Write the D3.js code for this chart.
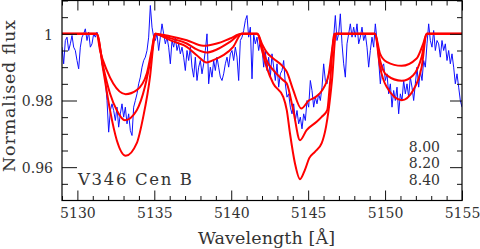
<!DOCTYPE html>
<html>
<head>
<meta charset="utf-8">
<script src="https://cdn.jsdelivr.net/npm/d3@7"></script>
<style>
  body { margin: 0; background: #fff; }
  svg { display: block; }
  text { font-family: "DejaVu Serif", serif; fill: #333; }
</style>
</head>
<body>
<svg id="chart" width="480" height="249"></svg>
<script>
// observed spectrum, regular wavelength grid from waveStart to waveEnd
const waveStart = 5129.0;
const waveEnd = 5155.0;
const obsFlux = [
  0.9960, 0.9910, 0.9980, 0.9990, 0.9950, 0.9970, 0.9995, 0.9960, 0.9950, 0.9920,
  0.9895, 0.9960, 0.9990, 1.0000, 1.0015, 0.9980, 1.0005, 0.9960, 0.9970, 1.0000,
  0.9990, 1.0005, 0.9980, 0.9960, 0.9910, 0.9885, 0.9860, 0.9800, 0.9705, 0.9770,
  0.9790, 0.9770, 0.9740, 0.9780, 0.9720, 0.9760, 0.9790, 0.9750, 0.9780, 0.9730,
  0.9760, 0.9710, 0.9695, 0.9780, 0.9800, 0.9820, 0.9850, 0.9870, 0.9900, 0.9920,
  0.9930, 0.9950, 0.9990, 1.0085, 1.0020, 0.9990, 0.9980, 1.0000, 0.9950, 0.9990,
  1.0030, 1.0000, 0.9970, 0.9990, 0.9960, 0.9910, 0.9980, 0.9960, 0.9990, 0.9950,
  0.9970, 0.9940, 0.9960, 0.9930, 0.9890, 0.9950, 0.9920, 0.9960, 0.9900, 0.9870,
  0.9930, 0.9860, 0.9900, 0.9920, 0.9880, 0.9910, 0.9950, 1.0000, 0.9850, 0.9900,
  0.9870, 0.9920, 0.9890, 0.9930, 0.9900, 0.9870, 0.9860, 0.9880, 0.9910, 0.9930,
  0.9900, 0.9940, 0.9950, 0.9920, 0.9960, 0.9930, 0.9860, 0.9980, 0.9990, 1.0010,
  1.0040, 1.0055, 0.9990, 1.0020, 0.9865, 1.0000, 0.9970, 0.9990, 0.9950, 0.9980,
  0.9960,
  0.9900, 0.9950, 0.9890, 0.9930, 0.9870, 0.9940, 0.9900, 0.9860, 0.9910, 0.9840,
  0.9880, 0.9890, 0.9920, 0.9850, 0.9810, 0.9820, 0.9780, 0.9760, 0.9790, 0.9740,
  0.9770, 0.9730, 0.9750, 0.9715, 0.9760, 0.9740, 0.9800, 0.9780, 0.9860, 0.9830,
  0.9780, 0.9810, 0.9790, 0.9820, 0.9800, 0.9840, 0.9910, 0.9860, 0.9850, 0.9880,
  0.9900, 0.9950, 0.9990, 1.0055, 0.9980, 1.0000, 1.0060, 0.9970, 0.9910, 0.9870,
  0.9970, 1.0000, 1.0030, 0.9990, 1.0020, 0.9990, 1.0030, 0.9970, 0.9990, 1.0020,
  0.9980, 1.0000, 0.9960, 0.9900, 0.9950, 0.9990, 0.9960, 1.0030, 0.9980, 0.9920,
  0.9850, 0.9900, 0.9910, 0.9860, 0.9880, 0.9820, 0.9850, 0.9780, 0.9830, 0.9800,
  0.9840, 0.9760, 0.9820, 0.9800, 0.9860, 0.9820, 0.9850, 0.9810, 0.9870, 0.9840,
  0.9800, 0.9850, 0.9900, 0.9840, 0.9890, 0.9860, 0.9920, 0.9900, 0.9970, 1.0030,
  0.9980, 0.9960, 1.0010, 0.9950, 0.9980, 0.9970, 0.9930, 0.9980, 0.9950, 0.9970,
  0.9920, 0.9950, 0.9910, 0.9940, 0.9900, 0.9850, 0.9880, 0.9840, 0.9800, 0.9780
];

// model spectra [wavelength, flux], log g = 8.00 / 8.20 / 8.40
const model800 = [
  [5129.0, 1.0], [5131.26, 1.0], [5131.47, 0.9951], [5131.91, 0.9891], [5132.33, 0.9851],
  [5133.14, 0.9819], [5133.86, 0.9831], [5134.51, 0.9881], [5134.83, 0.9951], [5135.05, 1.0],
  [5135.3, 0.9999], [5136.02, 0.9993], [5137.11, 0.9981], [5138.18, 0.9964], [5139.06, 0.9971],
  [5139.92, 0.9986], [5140.68, 1.0], [5141.7, 1.0], [5142.0, 0.9970], [5142.3, 0.9945],
  [5142.73, 0.9926], [5143.38, 0.9901], [5143.61, 0.9886], [5144.03, 0.9831], [5144.55, 0.9776],
  [5145.04, 0.9800], [5145.47, 0.9810], [5145.90, 0.9830], [5146.34, 0.9880], [5146.55, 0.9950],
  [5146.77, 1.0], [5149.34, 1.0], [5149.67, 0.9941], [5150.10, 0.9916], [5151.08, 0.9904],
  [5152.05, 0.9926], [5152.48, 0.9971], [5152.71, 1.0], [5155.0, 1.0]
];
const model820 = [
  [5129.0, 1.0], [5131.26, 1.0], [5131.68, 0.9901], [5132.12, 0.9821], [5132.56, 0.9771],
  [5133.09, 0.9741], [5133.86, 0.9771], [5134.39, 0.9841], [5134.83, 0.9941], [5135.05, 1.0],
  [5135.3, 0.9998], [5136.02, 0.9987], [5137.11, 0.9971], [5137.64, 0.9956], [5138.41, 0.9944],
  [5139.06, 0.9953], [5139.92, 0.9976], [5140.68, 1.0], [5141.7, 1.0], [5142.0, 0.9960],
  [5142.3, 0.9920], [5142.73, 0.9891], [5143.38, 0.9861], [5143.61, 0.9851], [5144.03, 0.9771],
  [5144.47, 0.9681], [5144.90, 0.9711], [5145.55, 0.9736], [5145.88, 0.9751], [5146.24, 0.9771],
  [5146.42, 0.9852], [5146.70, 1.0], [5149.34, 1.0], [5149.67, 0.9921], [5150.10, 0.9876],
  [5151.08, 0.9859], [5151.83, 0.9876], [5152.38, 0.9931], [5152.71, 1.0], [5155.0, 1.0]
];
const model840 = [
  [5129.0, 1.0], [5131.26, 1.0], [5131.68, 0.9891], [5132.12, 0.9771], [5132.56, 0.9681],
  [5133.14, 0.9634], [5133.86, 0.9672], [5134.28, 0.9751], [5134.72, 0.9871], [5134.98, 0.9981],
  [5135.1, 1.0], [5135.3, 0.9997], [5136.02, 0.9981], [5137.11, 0.9961], [5137.76, 0.9936],
  [5138.41, 0.9914], [5138.84, 0.9921], [5139.49, 0.9936], [5140.13, 0.9961], [5140.68, 1.0],
  [5141.7, 1.0], [5142.0, 0.9950], [5142.3, 0.9900], [5142.73, 0.9851], [5143.38, 0.9811],
  [5143.61, 0.9771], [5143.82, 0.9701], [5144.14, 0.9612], [5144.47, 0.9564], [5144.79, 0.9592],
  [5145.07, 0.9627], [5145.44, 0.9646], [5145.88, 0.9672], [5146.16, 0.9721], [5146.33, 0.9771],
  [5146.55, 0.9861], [5146.81, 1.0], [5149.34, 1.0], [5149.67, 0.9901], [5150.10, 0.9841],
  [5151.08, 0.9801], [5151.83, 0.9831], [5152.38, 0.9901], [5152.71, 1.0], [5155.0, 1.0]
];

const xMajorTicks = [5130, 5135, 5140, 5145, 5150, 5155];
const yMajorTicks = [0.96, 0.98, 1];
const yTickLabels = ["0.96", "0.98", "1"];
const legendLabels = ["8.00", "8.20", "8.40"];
const starName = "V346 Cen B";
const xTitle = "Wavelength [Å]";
const yTitle = "Normalised flux";

// layout
const plotLeft = 62, plotRight = 462, plotTop = 0.5, plotBottom = 200.5;

const svg = d3.select("#chart");
const x = d3.scaleLinear().domain([5129, 5155]).range([plotLeft, plotRight]);
const y = d3.scaleLinear().domain([0.95, 1.01]).range([plotBottom, plotTop]);

svg.append("clipPath").attr("id", "plotclip")
  .append("rect").attr("x", plotLeft).attr("y", plotTop)
  .attr("width", plotRight - plotLeft).attr("height", plotBottom - plotTop);

const plot = svg.append("g").attr("clip-path", "url(#plotclip)");

// observed spectrum
const dw = (waveEnd - waveStart) / (obsFlux.length - 1);
const obs = obsFlux.map((f, i) => [waveStart + i * dw, f]);

plot.append("path")
  .datum(obs)
  .attr("fill", "none")
  .attr("stroke", "#1010ff")
  .attr("stroke-width", 1)
  .attr("d", d3.line().x(d => x(d[0])).y(d => y(d[1])));

// models
const modelLine = d3.line().curve(d3.curveMonotoneX).x(d => x(d[0])).y(d => y(d[1]));
[model800, model820, model840].forEach(m => {
  plot.append("path")
    .datum(m)
    .attr("fill", "none")
    .attr("stroke", "#ff0000")
    .attr("stroke-width", 2)
    .attr("d", modelLine);
});

// axes: ticks point inwards on all four sides
const minorX = x.ticks(26).filter(v => xMajorTicks.indexOf(v) < 0);
const minorY = d3.range(0, 12).map(i => 0.955 + i * 0.005)
  .filter(v => !yMajorTicks.some(t => Math.abs(t - v) < 1e-6));

function tidy(g) {
  g.select(".domain").remove();
  g.selectAll("line").attr("stroke", "#111");
}

svg.append("g").attr("transform", `translate(0,${plotBottom})`)
  .call(d3.axisBottom(x).tickValues(xMajorTicks).tickSize(-10).tickPadding(7.6).tickFormat(d3.format("d")))
  .call(tidy)
  .selectAll("text").attr("font-size", 14).attr("font-family", "DejaVu Serif").attr("fill", "#333");
svg.append("g").attr("transform", `translate(0,${plotBottom})`)
  .call(d3.axisBottom(x).tickValues(minorX).tickSize(-4.5).tickFormat(""))
  .call(tidy);
svg.append("g").attr("transform", `translate(0,${plotTop})`)
  .call(d3.axisTop(x).tickValues(xMajorTicks).tickSize(-10).tickFormat(""))
  .call(tidy);
svg.append("g").attr("transform", `translate(0,${plotTop})`)
  .call(d3.axisTop(x).tickValues(minorX).tickSize(-5).tickFormat(""))
  .call(tidy);

svg.append("g").attr("transform", `translate(${plotLeft},0)`)
  .call(d3.axisLeft(y).tickValues(yMajorTicks).tickSize(-15).tickPadding(9)
    .tickFormat((d, i) => yTickLabels[i]))
  .call(tidy)
  .selectAll("text").attr("font-size", 14).attr("font-family", "DejaVu Serif").attr("fill", "#333")
  .attr("dy", "0.38em");
svg.append("g").attr("transform", `translate(${plotLeft},0)`)
  .call(d3.axisLeft(y).tickValues(minorY).tickSize(-6).tickFormat(""))
  .call(tidy);
svg.append("g").attr("transform", `translate(${plotRight},0)`)
  .call(d3.axisRight(y).tickValues(yMajorTicks).tickSize(-12).tickFormat(""))
  .call(tidy);
svg.append("g").attr("transform", `translate(${plotRight},0)`)
  .call(d3.axisRight(y).tickValues(minorY).tickSize(-5).tickFormat(""))
  .call(tidy);

// frame
svg.append("rect")
  .attr("x", plotLeft).attr("y", plotTop)
  .attr("width", plotRight - plotLeft).attr("height", plotBottom - plotTop)
  .attr("fill", "none").attr("stroke", "#000").attr("stroke-width", 1.2);

// titles
svg.append("text")
  .attr("x", 198).attr("y", 243.5)
  .attr("font-size", 17.5)
  .attr("textLength", 137)
  .text(xTitle);

svg.append("text")
  .attr("transform", "translate(15,96) rotate(-90)")
  .attr("text-anchor", "middle")
  .attr("font-size", 17.5)
  .attr("textLength", 152)
  .text(yTitle);

// star label
svg.append("text")
  .attr("x", 78).attr("y", 185)
  .attr("font-size", 16.5)
  .attr("textLength", 114)
  .text(starName);

// log g labels
svg.selectAll(".lg").data(legendLabels).enter().append("text")
  .attr("class", "lg")
  .attr("x", 440)
  .attr("y", (d, i) => 151.5 + i * 16.7)
  .attr("text-anchor", "end")
  .attr("font-size", 14)
  .text(d => d);
</script>
</body>
</html>
